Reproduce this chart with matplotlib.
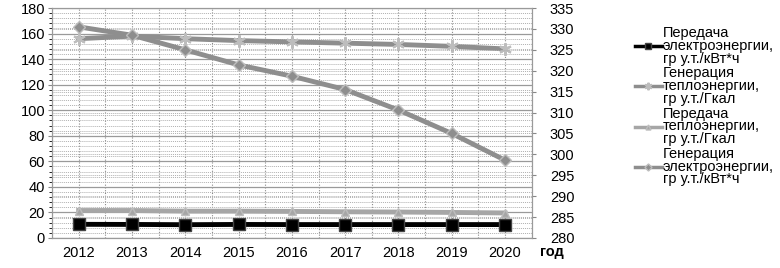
import matplotlib.pyplot as plt
from matplotlib.ticker import MultipleLocator

plt.rcParams['font.family'] = ['Liberation Sans', 'DejaVu Sans']

years = ["2012", "2013", "2014", "2015", "2016", "2017", "2018", "2019", "2020"]

# left axis
el_transfer = [10.7, 10.6, 10.4, 10.6, 10.5, 10.5, 10.5, 10.5, 10.5]
heat_gen = [156.0, 158.0, 156.0, 154.5, 153.5, 152.5, 151.5, 150.0, 148.0]
heat_transfer = [21.5, 21.5, 21.0, 21.0, 20.8, 20.5, 20.3, 20.0, 19.6]
# right axis
el_gen = [330.5, 328.5, 325.0, 321.4, 318.7, 315.5, 310.6, 305.0, 298.6]

labels = [
    "Передача\nэлектроэнергии,\nгр у.т./кВт*ч",
    "Генерация\nтеплоэнергии,\nгр у.т./Гкал",
    "Передача\nтеплоэнергии,\nгр у.т./Гкал",
    "Генерация\nэлектроэнергии,\nгр у.т./кВт*ч",
]

GRAY = "#8e8e8e"
EDGE = "#bdbdbd"

fig = plt.figure(figsize=(7.8, 2.68), dpi=100)
ax = fig.add_axes([0.0667, 0.112, 0.615, 0.858])
ax2 = ax.twinx()

x = list(range(len(years)))

ax.set_xlim(-0.5, len(years) - 0.5)
ax.set_ylim(0, 180)
ax2.set_ylim(280, 335)
ax.yaxis.set_major_locator(MultipleLocator(20))
ax.yaxis.set_minor_locator(MultipleLocator(4))
ax2.yaxis.set_major_locator(MultipleLocator(5))

# grid
ax.set_xticks(x)
ax.set_xticklabels(years, fontsize=10.5)
ax.set_xticks([i - 0.5 for i in range(len(years) + 1)], minor=True)
ax.grid(True, axis="y", which="major", color="#9a9a9a", lw=0.9, ls="-")
ax.grid(True, axis="y", which="minor", color="#b0b0b0", lw=0.7, ls=(0, (1, 1)))
ax.grid(True, axis="x", which="both", color="#8a8a8a", lw=0.8, ls=(0, (1, 1.5)))
ax2.grid(True, axis="y", color="#b0b0b0", lw=0.7, ls=(0, (1, 1)))
ax.set_axisbelow(True)

for a in (ax, ax2):
    for s in a.spines.values():
        s.set_color("#9a9a9a")
        s.set_linestyle((0, (1, 1)))
        s.set_linewidth(0.8)

ax.tick_params(axis="y", labelsize=10.5, length=3, color="#888888", pad=2)
ax.tick_params(axis="x", which="both", length=0, pad=6)
ax2.tick_params(axis="y", labelsize=10.5, length=3, color="#888888", pad=10)

h1, = ax.plot(x, el_transfer, color="black", lw=3.5, marker="s", ms=8,
              mfc="black", mec="#444444", zorder=5)
h2, = ax.plot(x, heat_gen, color=GRAY, lw=3.5, marker=(6, 2, 0), ms=9,
              mec=EDGE, mew=1.5, zorder=4)
h3, = ax.plot(x, heat_transfer, color="#a6a6a6", lw=3.5, marker="^", ms=6,
              mfc="#a6a6a6", mec=EDGE, zorder=4)
h4, = ax2.plot(x, el_gen, color=GRAY, lw=3.5, marker="D", ms=6,
               mfc=GRAY, mec=EDGE, zorder=4)

fig.text(0.692, 0.06, "год", fontsize=10.5, fontweight="bold", ha="left", va="center")

leg = fig.legend([h1, h2, h3, h4], labels, loc="upper left",
                 bbox_to_anchor=(0.806, 0.925), frameon=False, fontsize=10.5,
                 handlelength=1.9, handletextpad=0.05, labelspacing=0.05,
                 borderaxespad=0, markerscale=0.6)
for t in leg.get_texts():
    t.set_linespacing(0.89)
for ln in leg.get_lines():
    ln.set_linewidth(2.5)

fig.savefig("out.png", dpi=100)
